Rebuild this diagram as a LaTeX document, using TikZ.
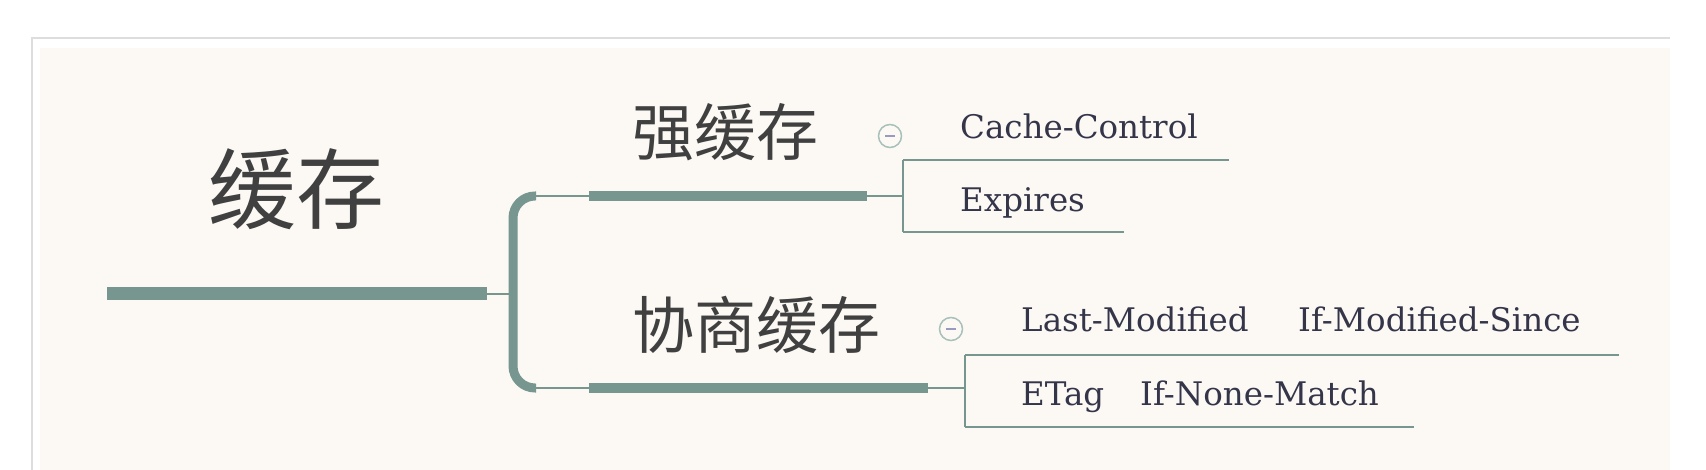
\documentclass[tikz,border=0pt]{standalone}
\usepackage{fontspec}
\setmainfont{DejaVu Serif}
\newfontfamily\cjk{Noto Sans CJK SC}
\definecolor{branch}{HTML}{76968F}
\definecolor{bg}{HTML}{FCF9F5}
\definecolor{frame}{HTML}{DDDDDD}
\definecolor{txt}{HTML}{404040}
\definecolor{leaftxt}{HTML}{35354A}
\definecolor{togglecol}{HTML}{A9C0BB}
\definecolor{minuscol}{HTML}{9A9AC0}
\begin{document}
\begin{tikzpicture}[x=1pt,y=-1pt,
  cjkroot/.style={font=\cjk\fontsize{88}{88}\selectfont, text=txt, inner sep=0},
  cjkbranch/.style={font=\cjk\fontsize{62}{62}\selectfont, text=txt, inner sep=0},
  leaf/.style={font=\fontsize{32.5}{32.5}\selectfont, text=leaftxt, inner sep=0, anchor=base west},
  rootline/.style={draw=branch, line width=13},
  midline/.style={draw=branch, line width=10},
  thinline/.style={draw=branch, line width=2},
  bracket/.style={draw=branch, line width=9, rounded corners=22},
  toggle/.style={circle, draw=togglecol, line width=1.5, fill=bg, minimum size=23, inner sep=0},
  minus/.style={draw=minuscol, line width=1.5}]
\useasboundingbox (0,0) rectangle (1706,470);
\fill[white] (0,0) rectangle (1706,470);
\draw[frame, line width=2] (32,471) -- (32,38) -- (1670,38);
\fill[bg] (40,48) rectangle (1670,470);

% root
\node[cjkroot] (root) at (296,189) {缓存};
\coordinate (rootL) at (107,294);
\coordinate (rootR) at (487,294);
\coordinate (brk) at (513,294);
\draw[rootline] (rootL) -- (rootR);
\draw[thinline] (rootR) -- (brk);

% bracket
\coordinate (brkT) at (536,196);
\coordinate (brkB) at (536,388);
\draw[bracket] (brkT) -- (513,196) -- (513,388) -- (brkB);

% branch 1
\coordinate (b1L) at (589,196);
\coordinate (b1R) at (867,196);
\coordinate (j1) at (903,196);
\draw[thinline] (brkT) -- (b1L);
\draw[midline] (b1L) -- (b1R);
\draw[thinline] (b1R) -- (j1);
\node[cjkbranch] (strong) at (725,132) {强缓存};
\node[toggle] (t1) at (890,136) {};
\draw[minus] ([xshift=-5pt]t1.center) -- ([xshift=5pt]t1.center);

\coordinate (l1a) at (903,160);
\coordinate (l1b) at (903,232);
\draw[thinline] (l1a) -- (l1b);
\draw[thinline] (l1a) -- (1229,160);
\draw[thinline] (l1b) -- (1124,232);
\node[leaf] (cc) at (960,139) {Cache-Control};
\node[leaf] (exp) at (960,212) {Expires};

% branch 2
\coordinate (b2L) at (589,388);
\coordinate (b2R) at (928,388);
\coordinate (j2) at (965,388);
\draw[thinline] (brkB) -- (b2L);
\draw[midline] (b2L) -- (b2R);
\draw[thinline] (b2R) -- (j2);
\node[cjkbranch] (nego) at (756,325) {协商缓存};
\node[toggle] (t2) at (951,329) {};
\draw[minus] ([xshift=-5pt]t2.center) -- ([xshift=5pt]t2.center);

\coordinate (l2a) at (965,355);
\coordinate (l2b) at (965,427);
\draw[thinline] (l2a) -- (l2b);
\draw[thinline] (l2a) -- (1619,355);
\draw[thinline] (l2b) -- (1414,427);
\node[leaf] (lm) at (1021,332) {Last-Modified};
\node[leaf] (ims) at (1298,332) {If-Modified-Since};
\node[leaf] (etag) at (1021,405) {ETag};
\node[leaf] (inm) at (1140,405) {If-None-Match};
\end{tikzpicture}
\end{document}
